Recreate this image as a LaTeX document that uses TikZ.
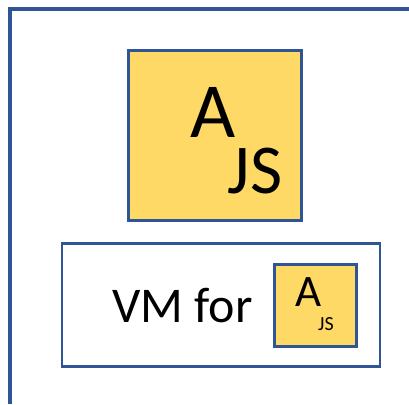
\documentclass[tikz,border=0pt]{standalone}
\usepackage{fontspec}
\setmainfont{Carlito}
\usepackage{xcolor}
\usetikzlibrary{positioning}

\definecolor{frameblue}{RGB}{47,85,151}
\definecolor{jsgold}{RGB}{255,217,102}

\begin{document}
\begin{tikzpicture}[x=1pt, y=-1pt,
  jsbox/.style={rectangle, draw=frameblue, fill=jsgold, line width=2.6pt},
  vmbox/.style={rectangle, draw=frameblue, fill=white, line width=2.6pt},
  txt/.style={inner sep=0pt, anchor=base, text=black},
  frame/.style={draw=frameblue, line width=3.2pt}
]
\useasboundingbox (0,0) rectangle (409,404);

% ── Outer frame (top-left corner) ─────────────────────────────
\coordinate (fbot)   at (10,404);
\coordinate (fcorn)  at (10,9);
\coordinate (fright) at (409,9);
\draw[frame] (fbot) -- (fcorn) -- (fright);

% ── Big app box ───────────────────────────────────────────────
\node[jsbox, minimum width=173pt, minimum height=170pt] (app) at (215,135.5) {};
\node[txt, font=\fontsize{78}{80}\selectfont] (appA)  at (213.5,137) {A};
\node[txt, font=\fontsize{70}{72}\selectfont] (appJS) at (255,193) {JS};

% ── VM box ────────────────────────────────────────────────────
\node[vmbox, minimum width=318pt, minimum height=123pt] (vm) at (221,305) {};
\node[txt, font=\fontsize{50}{52}\selectfont] (vmlbl) at (182.5,322) {VM for};
\node[jsbox, minimum width=82pt, minimum height=82pt] (small) at (315.5,305.5) {};
\node[txt, font=\fontsize{45}{47}\selectfont] (smallA)  at (309,306) {A};
\node[txt, font=\fontsize{20}{22}\selectfont] (smallJS) at (326,330) {JS};
\end{tikzpicture}
\end{document}
